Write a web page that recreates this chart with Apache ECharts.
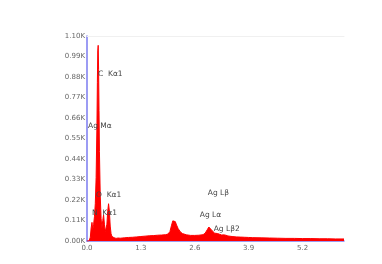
<!DOCTYPE html>
<html><head><meta charset="utf-8">
<script src="https://cdn.jsdelivr.net/npm/echarts@6/dist/echarts.min.js"></script>
<style>html,body{margin:0;padding:0;background:#fff}#c{width:382px;height:264px}</style>
</head><body><div id="c"></div>
<script>
// Energy (keV)
var energy = [0, 0.05, 0.08, 0.10, 0.12, 0.14, 0.16, 0.18, 0.20, 0.22, 0.24, 0.25, 0.26, 0.27, 0.28, 0.29, 0.30, 0.32, 0.34, 0.36, 0.38, 0.40, 0.42, 0.44, 0.46, 0.48, 0.50, 0.52, 0.54, 0.56, 0.58, 0.60, 0.65, 0.70, 0.75, 0.80, 0.90, 1.00, 1.10, 1.20, 1.30, 1.40, 1.50, 1.60, 1.70, 1.80, 1.90, 1.95, 2.00, 2.04, 2.07, 2.10, 2.13, 2.16, 2.20, 2.25, 2.30, 2.40, 2.50, 2.60, 2.70, 2.80, 2.85, 2.90, 2.94, 2.98, 3.02, 3.08, 3.15, 3.20, 3.25, 3.30, 3.35, 3.40, 3.50, 3.60, 3.70, 3.80, 3.90, 4.00, 4.20, 4.40, 4.60, 4.80, 5.00, 5.20, 5.40, 5.60, 5.80, 6.00, 6.20];
// Counts (K)
var counts = [0, 0, 0.02, 0.07, 0.10, 0.06, 0.09, 0.13, 0.20, 0.34, 0.62, 0.85, 1.02, 1.05, 0.92, 0.70, 0.48, 0.24, 0.12, 0.07, 0.11, 0.14, 0.09, 0.05, 0.05, 0.09, 0.16, 0.20, 0.16, 0.08, 0.04, 0.025, 0.018, 0.014, 0.016, 0.015, 0.017, 0.019, 0.020, 0.022, 0.024, 0.026, 0.028, 0.029, 0.031, 0.032, 0.034, 0.037, 0.050, 0.085, 0.108, 0.116, 0.104, 0.086, 0.066, 0.050, 0.040, 0.033, 0.030, 0.030, 0.031, 0.034, 0.042, 0.060, 0.075, 0.070, 0.055, 0.042, 0.040, 0.036, 0.032, 0.033, 0.031, 0.027, 0.024, 0.022, 0.021, 0.020, 0.019, 0.018, 0.017, 0.016, 0.015, 0.014, 0.014, 0.013, 0.013, 0.012, 0.012, 0.011, 0.011];
// Peak annotations
var peakNames = ["C  K\u03b11", "Ag M\u03b1", "O  K\u03b11", "N  K\u03b11", "Ag L\u03b2", "Ag L\u03b1", "Ag L\u03b22"];
var peakLabelE = [0.265, 0.024, 0.217, 0.12, 2.913, 2.72, 3.057];
var peakLabelC = [0.896, 0.617, 0.247, 0.150, 0.258, 0.140, 0.064];
var xTicks = [0, 1.3, 2.6, 3.9, 5.2];

var data = energy.map(function (e, i) { return [e, counts[i]]; });
var marks = peakNames.map(function (n, i) {
  return { coord: [peakLabelE[i], peakLabelC[i]], name: n,
    label: { formatter: n } };
});
var font = '"DejaVu Sans", sans-serif';
var chart = echarts.init(document.getElementById('c'));
chart.setOption({
  animation: false,
  grid: { left: 87, right: 38, top: 36, bottom: 23 },
  xAxis: [{
    type: 'value', min: 0, max: 6.2, interval: 1.3,
    axisLine: { show: true, lineStyle: { color: '#7b7bf0', width: 1.5 } },
    axisTick: { show: false },
    splitLine: { show: false },
    axisLabel: { color: '#666', fontSize: 7, fontFamily: font, margin: 4,
      showMaxLabel: false,
      formatter: function (v) { return v.toFixed(1); } }
  }, {
    type: 'value', position: 'top', min: 0, max: 6.2,
    axisLine: { show: true, lineStyle: { color: '#f0f0f0', width: 1 } },
    axisTick: { show: false }, axisLabel: { show: false }, splitLine: { show: false }
  }],
  yAxis: {
    type: 'value', min: 0, max: 1.10, interval: 0.11,
    axisLine: { show: true, lineStyle: { color: '#7b7bf0', width: 1.5 } },
    axisTick: { show: false },
    splitLine: { show: false },
    axisLabel: { color: '#666', fontSize: 7, fontFamily: font, margin: 2,
      formatter: function (v) { return v.toFixed(2) + 'K'; } }
  },
  series: [{
    type: 'line', data: data, showSymbol: false, symbol: 'none',
    lineStyle: { color: '#ff0000', width: 1 },
    areaStyle: { color: '#ff0000', opacity: 1 },
    markPoint: {
      symbol: 'circle', symbolSize: 0, silent: true,
      label: { show: true, position: 'right', distance: 0, color: '#444', fontSize: 7.5, fontFamily: font },
      data: marks
    }
  }]
});
</script></body></html>
